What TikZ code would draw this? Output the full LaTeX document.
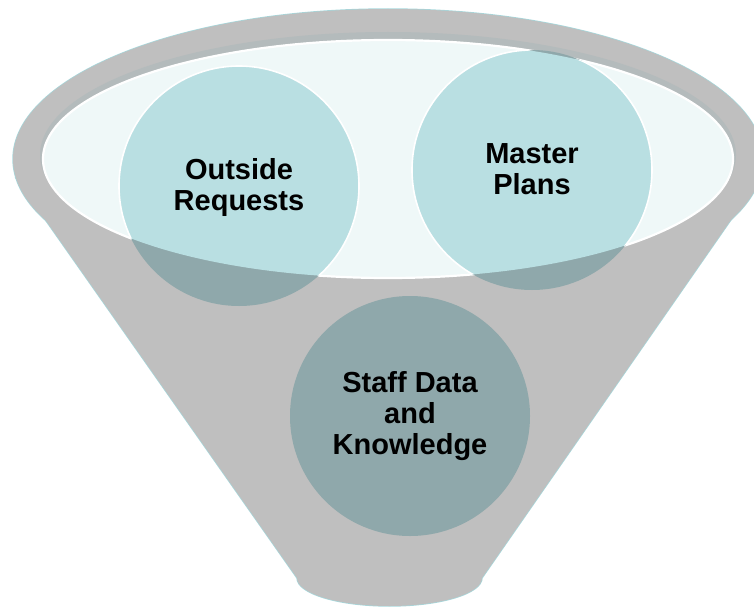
\documentclass[tikz,border=0pt]{standalone}
\usepackage{fontspec}
\setmainfont{Liberation Sans}
\definecolor{funnelgray}{HTML}{BFBFBF}
\definecolor{bandgray}{HTML}{B4BBBC}
\definecolor{rimedge}{HTML}{A6D7DB}
\definecolor{innerfill}{HTML}{EFF8F8}
\definecolor{lightteal}{HTML}{B9DFE2}
\definecolor{darkteal}{HTML}{8FA8AB}
\begin{document}
\begin{tikzpicture}[x=1pt,y=-1pt,
  bubble/.style={circle, minimum size=240pt, inner sep=0pt, fill=darkteal},
  bubbletext/.style={font=\bfseries\fontsize{29}{31}\selectfont, align=center, text=black, inner sep=0pt}]
\useasboundingbox (0,0) rectangle (754,607);
% funnel outline
\draw[rimedge, line width=1.4pt] (388,159) ellipse[x radius=375, y radius=150];
\draw[rimedge, line width=1.4pt] (16,178) -- (297,578)
  arc[start angle=180, end angle=0, x radius=92.5, y radius=28] -- (760,178) -- cycle;
% funnel body
\fill[funnelgray] (388,159) ellipse[x radius=375, y radius=150];
\fill[funnelgray] (16,178) -- (297,578)
  arc[start angle=180, end angle=0, x radius=92.5, y radius=28] -- (760,178) -- cycle;
% inner shadow band
\fill[bandgray] (388,155) ellipse[x radius=348, y radius=123];
% mouth of the funnel
\filldraw[fill=innerfill, draw=white, line width=2.2pt] (388,159) ellipse[x radius=345, y radius=119];
% circles (dark parts)
\node[bubble] (c1) at (239,186) {};
\node[bubble] (c2) at (532,170) {};
\node[bubble] (c3) at (410,416) {};
% light parts inside the mouth
\begin{scope}
  \clip (388,159) ellipse[x radius=345, y radius=119];
  \filldraw[fill=lightteal, draw=white, line width=1.6pt] (c1.center) circle[radius=120];
  \filldraw[fill=lightteal, draw=white, line width=1.6pt] (c2.center) circle[radius=120];
\end{scope}
% labels
\node[bubbletext] (t1) at (239,188) {Outside\\Requests};
\node[bubbletext] (t2) at (532,169) {Master\\Plans};
\node[bubbletext] (t3) at (410,416) {Staff Data\\and\\Knowledge};
\end{tikzpicture}
\end{document}
